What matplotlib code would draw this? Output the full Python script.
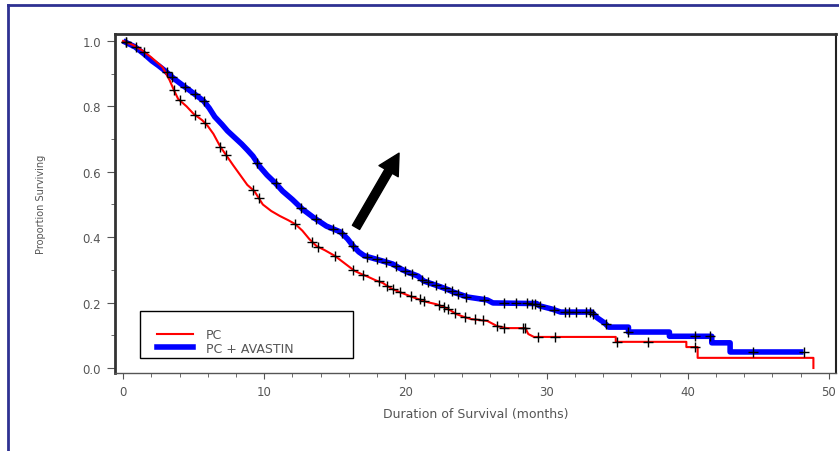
import numpy as np
import matplotlib
matplotlib.use('Agg')
import matplotlib.pyplot as plt
from matplotlib.lines import Line2D
from matplotlib.patches import Rectangle
from matplotlib.ticker import MultipleLocator

plt.rcParams['font.family'] = ['DejaVu Sans']

# PC arm (dense part drawn as a line, tail as visible steps)
pc_time = [0, 0.7, 1.4, 2.0, 2.8, 3.3, 3.6, 3.9, 4.5, 5.0, 5.6, 6.0, 6.4, 6.9, 7.4, 7.8,
           8.4, 8.8, 9.3, 9.9, 10.5, 11.1, 11.7, 12.2, 12.7, 13.2, 13.7, 14.3, 15.0, 15.7,
           16.4, 16.9, 17.4, 17.9, 18.4, 19.0, 19.6, 20.5, 21.5, 22.2, 22.7, 23.2, 23.6,
           24.1, 24.6, 25.8, 26.5, 27.2, 28.5, 28.7, 29.1, 34.9, 34.9, 39.9, 39.9, 40.7,
           40.7, 48.9, 48.9]
pc_surv = [1.0, 0.988, 0.97, 0.95, 0.92, 0.88, 0.85, 0.823, 0.80, 0.777, 0.758, 0.74,
           0.716, 0.676, 0.645, 0.62, 0.584, 0.56, 0.541, 0.50, 0.48, 0.465, 0.452, 0.44,
           0.42, 0.394, 0.373, 0.36, 0.343, 0.32, 0.297, 0.287, 0.278, 0.268, 0.26, 0.243,
           0.232, 0.217, 0.202, 0.195, 0.187, 0.176, 0.165, 0.157, 0.150, 0.144, 0.128,
           0.122, 0.122, 0.104, 0.095, 0.095, 0.08, 0.08, 0.064, 0.064, 0.031, 0.031, 0.0]
pc_censor = [0.2, 1.5, 3.6, 4.0, 5.1, 5.8, 6.9, 7.3, 9.2, 9.6, 12.2, 13.4, 13.8, 15.0,
             16.3, 17.0, 18.1, 18.7, 19.1, 19.6, 20.4, 21.0, 21.3, 22.4, 22.7, 23.0, 23.5,
             24.2, 24.9, 25.5, 26.5, 27.0, 28.3, 28.5, 29.4, 30.6, 35.0, 37.2, 40.5]

# PC + AVASTIN arm
av_time = [0, 0.85, 1.5, 2.05, 2.5, 3.0, 3.6, 4.4, 5.0, 5.7, 6.1, 6.5, 7.0, 7.4, 7.9,
           8.4, 8.8, 9.2, 9.7, 10.2, 10.8, 11.3, 12.0, 12.7, 13.5, 14.4, 15.4, 15.9, 16.3,
           16.7, 17.1, 18.4, 19.1, 19.6, 20.1, 20.9, 21.3, 21.9, 22.5, 23.0, 23.4, 24.4,
           25.8, 26.2, 29.3, 29.5, 30.4, 31.0, 33.2, 33.6, 34.1, 34.4, 35.8, 35.8, 38.7,
           38.7, 41.7, 41.7, 43.0, 43.0, 48.2]
av_surv = [1.0, 0.982, 0.96, 0.939, 0.925, 0.908, 0.885, 0.859, 0.84, 0.817, 0.795,
           0.768, 0.745, 0.725, 0.705, 0.685, 0.667, 0.648, 0.615, 0.59, 0.565, 0.541,
           0.515, 0.486, 0.46, 0.434, 0.416, 0.395, 0.373, 0.355, 0.343, 0.327, 0.318,
           0.305, 0.294, 0.281, 0.266, 0.257, 0.248, 0.24, 0.232, 0.217, 0.208, 0.199,
           0.197, 0.19, 0.18, 0.171, 0.171, 0.153, 0.138, 0.125, 0.125, 0.11, 0.11,
           0.097, 0.097, 0.077, 0.077, 0.049, 0.049]
av_censor = [0.2, 0.9, 3.1, 3.5, 4.4, 5.1, 5.7, 9.5, 10.8, 12.6, 13.7, 14.9, 15.5, 16.3,
             17.3, 18.0, 18.6, 19.3, 20.0, 20.5, 21.2, 21.6, 22.2, 22.8, 23.3, 23.7, 24.3,
             25.6, 27.0, 27.8, 28.6, 29.0, 29.2, 29.5, 30.5, 31.3, 31.6, 32.1, 32.8, 33.1,
             33.3, 34.2, 35.8, 40.5, 41.6, 44.6, 48.2]

fig = plt.figure(figsize=(8.39, 4.52), dpi=100)
ax = fig.add_axes([115 / 839, 1 - 374 / 452, 721 / 839, 339 / 452])

ax.plot(pc_time, pc_surv, color='#ff0000', lw=1.5, zorder=3)
ax.plot(av_time, av_surv, color='#0000ff', lw=4, zorder=2, solid_capstyle='butt')
ax.plot(pc_censor, np.interp(pc_censor, pc_time, pc_surv), '+', color='black',
        ms=7, mew=1, zorder=4)
ax.plot(av_censor, np.interp(av_censor, av_time, av_surv), '+', color='black',
        ms=7, mew=1, zorder=4)

ax.set_xlim(-0.57, 50.5)
ax.set_ylim(-0.0153, 1.0214)
ax.set_xticks([0, 10, 20, 30, 40, 50])
ax.set_yticks([0.0, 0.2, 0.4, 0.6, 0.8, 1.0])
ax.set_yticklabels(['0.0', '0.2', '0.4', '0.6', '0.8', '1.0'])
ax.xaxis.set_minor_locator(MultipleLocator(2))
ax.yaxis.set_minor_locator(MultipleLocator(0.1))
ax.tick_params(which='major', direction='out', colors='#555555', labelsize=8.5)
ax.tick_params(axis='y', which='major', length=6, pad=4)
ax.tick_params(axis='x', which='major', length=4, pad=5)
ax.tick_params(which='minor', direction='out', color='#555555', length=3)

for side, lw, c in [('left', 2, '#333333'), ('top', 2, '#333333'),
                    ('right', 1.5, '#222222'), ('bottom', 1, '#555555')]:
    ax.spines[side].set_linewidth(lw)
    ax.spines[side].set_color(c)

ax.set_ylabel('Proportion Surviving', fontsize=7, color='#555555', labelpad=26)
ax.set_xlabel('Duration of Survival (months)', fontsize=9, color='#555555', labelpad=6)

# legend with its own box
ax.add_patch(Rectangle((25 / 721, 15 / 339), 213 / 721, 47 / 339, transform=ax.transAxes,
                       fill=False, edgecolor='black', lw=1, zorder=5))
handles = [Line2D([], [], color='#ff0000', lw=1.5), Line2D([], [], color='#0000ff', lw=4)]
ax.legend(handles, ['PC', 'PC + AVASTIN'], loc='upper left', frameon=False,
          bbox_to_anchor=(42 / 721, 45 / 339), borderpad=0, borderaxespad=0,
          handlelength=2.9, handletextpad=1.0, labelspacing=0.05,
          prop={'size': 9}, labelcolor='#555555')

ax.annotate('', xy=(19.55, 0.657), xytext=(16.5, 0.43),
            arrowprops=dict(facecolor='black', edgecolor='black', width=6,
                            headwidth=16, headlength=15, shrink=0))

# outer slide frame
fig.add_artist(Line2D([8 / 839, 8 / 839], [0, 1 - 6 / 452], color='#2e3192', lw=2))
fig.add_artist(Line2D([8 / 839, 1], [1 - 6 / 452, 1 - 6 / 452], color='#2e3192', lw=2))

fig.savefig('out.png', dpi=100)
